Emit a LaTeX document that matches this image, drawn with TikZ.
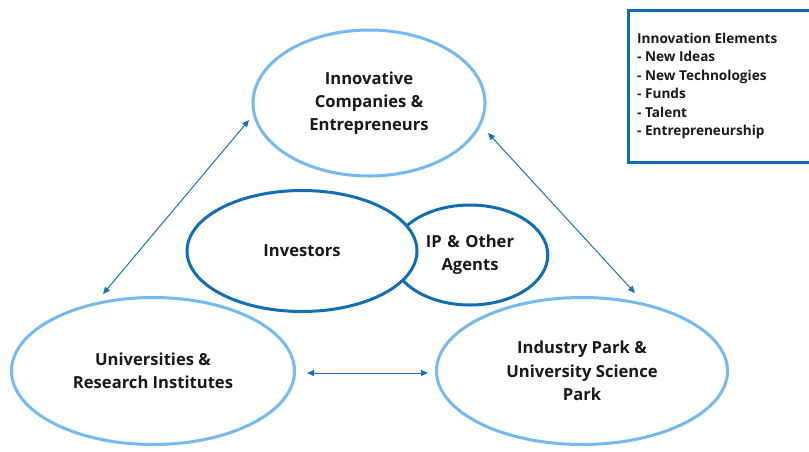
\documentclass[tikz,border=0pt]{standalone}
\usepackage{fontspec}
\setmainfont{Open Sans}
\usetikzlibrary{shapes.geometric,arrows.meta}
\definecolor{lightblue}{RGB}{118,184,240}
\definecolor{darkblue}{RGB}{18,110,180}
\definecolor{arrowblue}{RGB}{30,110,180}
\definecolor{txt}{RGB}{25,25,25}
\begin{document}
\begin{tikzpicture}[x=1pt,y=-1pt,
  ell/.style={ellipse,line width=3pt,fill=white,inner sep=0pt,align=center,
    text=txt,font=\fontsize{16.6}{23.3}\selectfont\bfseries},
  light/.style={ell,draw=lightblue},
  dark/.style={ell,draw=darkblue},
  link/.style={draw=arrowblue,line width=1pt,{Triangle[length=7pt,width=6pt]}-{Triangle[length=7pt,width=6pt]}}]
\useasboundingbox (0,0) rectangle (809,451);
\fill[white] (0,0) rectangle (809,451);
% outer ellipses
\node[light,minimum width=232pt,minimum height=146pt] (top) at (369,103) {\raisebox{-2pt}{\parbox{140pt}{\centering Innovative\\Companies \&\\Entrepreneurs}}};
\node[light,minimum width=283pt,minimum height=147pt] (uni) at (153,371) {Universities \&\\Research Institutes};
\node[light,minimum width=291pt,minimum height=147pt] (park) at (582,371) {Industry Park \&\\University Science\\Park};
% inner ellipses
\node[dark,minimum width=150pt,minimum height=100pt,text width=110pt] (ip) at (470,255) {IP \& Other\\Agents};
\node[dark,minimum width=230pt,minimum height=121pt] (inv) at (302,251) {Investors};
% connectors
\coordinate (a1) at (249,120);
\coordinate (a2) at (103,294);
\coordinate (b1) at (488,133);
\coordinate (b2) at (635,293);
\coordinate (c1) at (307,373);
\coordinate (c2) at (428,373);
\draw[link] (a1) -- (a2);
\draw[link] (b1) -- (b2);
\draw[link] (c1) -- (c2);
% legend
\draw[darkblue,line width=3pt,fill=white] (628,10) rectangle (816,162);
\node[anchor=north west,align=left,inner sep=0pt,text=txt,
  font=\fontsize{13.6}{18.4}\selectfont\bfseries] (legend) at (637,33)
  {Innovation Elements\\- New Ideas\\- New Technologies\\- Funds\\- Talent\\- Entrepreneurship};
\end{tikzpicture}
\end{document}
